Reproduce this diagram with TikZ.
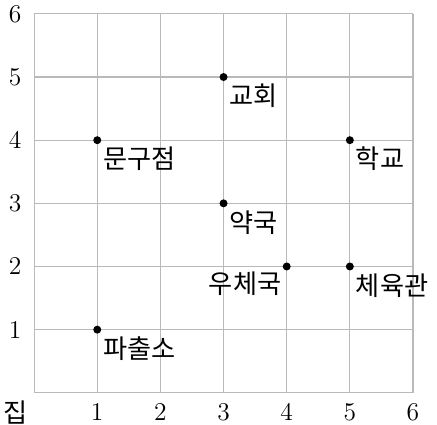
\documentclass[tikz,border=0pt]{standalone}
\usepackage{fontspec}
\newfontfamily\kr{Noto Sans CJK KR}
\usetikzlibrary{positioning}

\tikzset{
    place/.style={circle, fill=black, inner sep=0pt, minimum size=3.6pt},
    placename/.style={font=\fontsize{11.8}{13}\selectfont\kr, inner sep=0pt},
    tick/.style={font=\fontsize{11.5}{13}\selectfont, inner sep=0pt}
}

\begin{document}
\begin{tikzpicture}[x=1cm, y=1cm]
    \useasboundingbox (-0.54,-0.51) rectangle (6.38,6.22);

    % Grid
    \draw[gray!55, line width=0.5pt] (0,0) grid (6,6);

    % Axis numbers
    \foreach \i in {1,...,6} {
        \node[tick] (xt\i) at (\i,-0.31) {\i};
        \node[tick] (yt\i) at (-0.3,\i) {\i};
    }
    \node[placename] (home) at (-0.3,-0.31) {집};

    % Places
    \node[place] (police) at (1,1) {};
    \node[placename, anchor=west] (policename) at (1.09,0.7) {파출소};

    \node[place] (stationery) at (1,4) {};
    \node[placename, anchor=west] (stationeryname) at (1.09,3.7) {문구점};

    \node[place] (church) at (3,5) {};
    \node[placename, anchor=west] (churchname) at (3.09,4.7) {교회};

    \node[place] (pharmacy) at (3,3) {};
    \node[placename, anchor=west] (pharmacyname) at (3.09,2.7) {약국};

    \node[place] (postoffice) at (4,2) {};
    \node[placename, anchor=east] (postofficename) at (3.92,1.73) {우체국};

    \node[place] (school) at (5,4) {};
    \node[placename, anchor=west] (schoolname) at (5.09,3.7) {학교};

    \node[place] (gym) at (5,2) {};
    \node[placename, anchor=west] (gymname) at (5.09,1.7) {체육관};
\end{tikzpicture}
\end{document}
